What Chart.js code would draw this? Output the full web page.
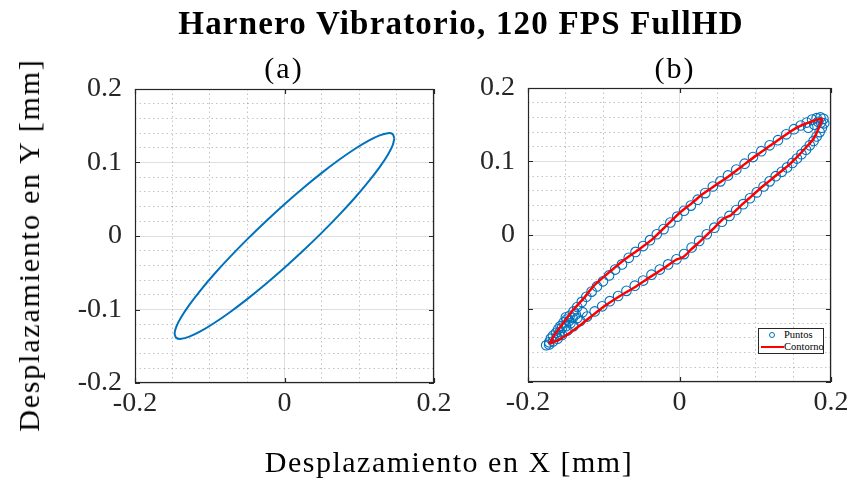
<!DOCTYPE html>
<html>
<head>
<meta charset="utf-8">
<script src="https://cdn.jsdelivr.net/npm/chart.js@4.4.1/dist/chart.umd.min.js"></script>
<style>
  html, body { margin: 0; padding: 0; background: #fff; }
  #fig { position: relative; width: 854px; height: 478px; overflow: hidden;
         font-family: 'Liberation Serif', 'Times New Roman', serif; color: #000; }
  canvas { position: absolute; top: 0; }
  .lbl { position: absolute; white-space: nowrap; line-height: 1; transform: translate(-50%, -50%); }
  #leyenda { position: absolute; left: 758px; top: 328px; width: 64px; height: 24px;
             border: 1px solid #262626; background: #fff; font-size: 10.5px; line-height: 12px; }
  #leyenda div { position: relative; height: 12px; }
  #leyenda .txt { position: absolute; left: 25px; top: 0; }
  #leyenda .circ { position: absolute; left: 10px; top: 3px; width: 6px; height: 6px;
                   border: 1px solid #0072BD; border-radius: 50%; box-sizing: border-box; }
  #leyenda .linea { position: absolute; left: 2px; top: 5px; width: 23px; height: 2px; background: #ff0000; }
</style>
</head>
<body>
<div id="fig">
  <canvas id="chartA" width="478" height="478" style="left:0"></canvas>
  <canvas id="chartB" width="376" height="478" style="left:478px"></canvas>

  <div class="lbl" style="left:461px;top:23px;font-size:33px;font-weight:bold;letter-spacing:1.2px">Harnero Vibratorio, 120 FPS FullHD</div>
  <div class="lbl" style="left:284px;top:68px;font-size:30px;letter-spacing:2px">(a)</div>
  <div class="lbl" style="left:675px;top:68px;font-size:30px;letter-spacing:2px">(b)</div>
  <div class="lbl" style="left:449px;top:462px;font-size:30px;letter-spacing:1.5px">Desplazamiento en X [mm]</div>
  <div class="lbl" style="left:29px;top:245px;font-size:30px;letter-spacing:1.8px;transform:translate(-50%,-50%) rotate(-90deg)">Desplazamiento en Y [mm]</div>

  <div id="leyenda">
    <div><span class="circ"></span><span class="txt">Puntos</span></div>
    <div><span class="linea"></span><span class="txt">Contorno</span></div>
  </div>
</div>

<script>
// ===== datos =====

// (a) elipse
const ellipseX = [0.147, 0.1448, 0.1381, 0.1273, 0.1126, 0.0945, 0.0735, 0.0503, 0.0255, 0,
  -0.0255, -0.0503, -0.0735, -0.0945, -0.1126, -0.1273, -0.1381, -0.1448, -0.147, -0.1448,
  -0.1381, -0.1273, -0.1126, -0.0945, -0.0735, -0.0503, -0.0255, 0, 0.0255, 0.0503,
  0.0735, 0.0945, 0.1126, 0.1273, 0.1381, 0.1448, 0.147];
const ellipseY = [0.133, 0.1386, 0.1399, 0.1369, 0.1298, 0.1187, 0.104, 0.0862, 0.0657, 0.0433,
  0.0195, -0.0049, -0.0291, -0.0524, -0.0742, -0.0937, -0.1103, -0.1236, -0.133, -0.1386,
  -0.1399, -0.1369, -0.1298, -0.1187, -0.104, -0.0862, -0.0657, -0.0433, -0.0195, 0.0049,
  0.0291, 0.0524, 0.0742, 0.0937, 0.1103, 0.1236, 0.133];

// (b) puntos medidos
const puntosX = [-0.176, -0.172, -0.170, -0.167, -0.163, -0.160, -0.157, -0.153, -0.149, -0.145,
  -0.140, -0.135, -0.129, -0.123, -0.116, -0.109, -0.101, -0.093, -0.085, -0.076,
  -0.067, -0.058, -0.048, -0.039, -0.030, -0.021, -0.012, -0.003, 0.006, 0.015,
  0.024, 0.034, 0.044, 0.054, 0.064, 0.075, 0.086, 0.097, 0.108, 0.119,
  0.130, 0.141, 0.151, 0.160, 0.168, 0.175, 0.181, 0.186, 0.190,
  0.191, 0.188, 0.185, 0.181, 0.177, 0.172, 0.167, 0.161, 0.155, 0.149,
  0.142, 0.135, 0.127, 0.119, 0.111, 0.102, 0.093, 0.084, 0.075, 0.066,
  0.056, 0.046, 0.036, 0.026, 0.016, 0.006, -0.004, -0.015, -0.026, -0.037,
  -0.048, -0.059, -0.070, -0.081, -0.092, -0.102, -0.112, -0.122, -0.131, -0.140,
  -0.148, -0.155, -0.161, -0.167, -0.172,
  -0.150, -0.146, -0.141, -0.137, -0.155, -0.150, -0.144, -0.158, -0.135, -0.128, -0.162,
  0.178, 0.183, 0.170, 0.187];
const puntosY = [-0.150, -0.146, -0.141, -0.137, -0.133, -0.128, -0.124, -0.119, -0.115, -0.110,
  -0.104, -0.098, -0.091, -0.084, -0.077, -0.070, -0.063, -0.055, -0.047, -0.040,
  -0.031, -0.023, -0.015, -0.007, 0.001, 0.008, 0.017, 0.025, 0.033, 0.040,
  0.048, 0.057, 0.066, 0.073, 0.081, 0.089, 0.097, 0.106, 0.114, 0.122,
  0.129, 0.137, 0.144, 0.149, 0.153, 0.157, 0.159, 0.160, 0.158,
  0.152, 0.146, 0.140, 0.134, 0.128, 0.122, 0.116, 0.110, 0.104, 0.098,
  0.092, 0.086, 0.080, 0.073, 0.066, 0.058, 0.050, 0.042, 0.034, 0.026,
  0.018, 0.010, 0.001, -0.008, -0.017, -0.026, -0.033, -0.040, -0.047, -0.054,
  -0.062, -0.069, -0.076, -0.083, -0.090, -0.097, -0.104, -0.111, -0.117, -0.124,
  -0.130, -0.136, -0.141, -0.145, -0.149,
  -0.112, -0.117, -0.113, -0.108, -0.126, -0.124, -0.120, -0.132, -0.113, -0.105, -0.138,
  0.150, 0.154, 0.146, 0.153];

// (b) contorno
const contornoX = [-0.172, -0.165, -0.155, -0.143, -0.128, -0.112, -0.092, -0.072, -0.054, -0.036,
  -0.018, 0.000, 0.016, 0.031, 0.048, 0.065, 0.083, 0.101, 0.119, 0.137,
  0.153, 0.168, 0.188, 0.184, 0.177, 0.166, 0.155, 0.143, 0.131, 0.118,
  0.105, 0.092, 0.079, 0.068, 0.058, 0.044, 0.030, 0.015, 0.005, -0.005,
  -0.022, -0.040, -0.059, -0.077, -0.095, -0.112, -0.129, -0.146, -0.160, -0.172];
const contornoY = [-0.148, -0.136, -0.122, -0.105, -0.088, -0.068, -0.050, -0.033, -0.020, -0.006,
  0.012, 0.030, 0.043, 0.056, 0.068, 0.080, 0.094, 0.108, 0.121, 0.134,
  0.145, 0.152, 0.158, 0.146, 0.131, 0.118, 0.106, 0.094, 0.084, 0.073,
  0.062, 0.050, 0.038, 0.027, 0.022, 0.008, -0.006, -0.020, -0.030, -0.034,
  -0.046, -0.058, -0.071, -0.082, -0.094, -0.107, -0.121, -0.134, -0.143, -0.148];

// marcas de los ejes
const xTicks = [-0.2, 0, 0.2];
const yTicks = [-0.2, -0.1, 0, 0.1, 0.2];
const yLabelsA = [-0.2, -0.1, 0, 0.1, 0.2];
const yLabelsB = [0, 0.1, 0.2];

// ===== graficos =====

const AZUL = '#0072BD';
const EJE = '#262626';
const FUENTE = "'Liberation Serif', 'Times New Roman', serif";

const toXY = (xs, ys) => xs.map((x, i) => ({ x, y: ys[i] }));
const esta = (lista, v) => lista.some((l) => Math.abs(l - v) < 1e-9);

// caja con marcas hacia adentro (estilo MATLAB)
const cajaPlugin = {
  id: 'caja',
  afterDraw(chart) {
    const { ctx, chartArea: a, scales } = chart;
    const t = 5;
    ctx.save();
    ctx.strokeStyle = EJE;
    ctx.lineWidth = 1.2;
    ctx.strokeRect(a.left + 0.5, a.top + 0.5, a.width - 1, a.height - 1);
    ctx.beginPath();
    xTicks.forEach((v) => {
      const p = Math.round(scales.x.getPixelForValue(v)) + 0.5;
      ctx.moveTo(p, a.bottom); ctx.lineTo(p, a.bottom - t);
      ctx.moveTo(p, a.top); ctx.lineTo(p, a.top + t);
    });
    yTicks.forEach((v) => {
      const p = Math.round(scales.y.getPixelForValue(v)) + 0.5;
      ctx.moveTo(a.left, p); ctx.lineTo(a.left + t, p);
      ctx.moveTo(a.right, p); ctx.lineTo(a.right - t, p);
    });
    ctx.stroke();
    ctx.restore();
  },
};

function ejes(yLabels, yWidth, xHeight) {
  const gridColor = (mayores) => (c) =>
    c.tick && esta(mayores, Math.round(c.tick.value * 100) / 100)
      ? 'rgba(38,38,38,0.15)' : 'rgba(38,38,38,0.28)';
  const gridDash = (mayores) => (c) =>
    c.tick && esta(mayores, Math.round(c.tick.value * 100) / 100) ? [] : [1.5, 3];
  const etiqueta = (lista) => (value) => {
    const v = Math.round(value * 100) / 100;
    return esta(lista, v) ? String(v === 0 ? 0 : v) : '';
  };
  return {
    x: {
      type: 'linear', min: -0.2, max: 0.2,
      ticks: { stepSize: 0.05, autoSkip: false, maxRotation: 0, padding: 4,
               color: EJE, font: { family: FUENTE, size: 28 }, callback: etiqueta(xTicks) },
      grid: { drawTicks: false, lineWidth: 1, color: gridColor(xTicks) },
      border: { display: false, dash: gridDash(xTicks) },
      afterFit: (s) => { s.height = xHeight; },
    },
    y: {
      type: 'linear', min: -0.2, max: 0.2,
      ticks: { stepSize: 0.02, autoSkip: false, padding: 13,
               color: EJE, font: { family: FUENTE, size: 28 }, callback: etiqueta(yLabels) },
      grid: { drawTicks: false, lineWidth: 1, color: gridColor(yTicks) },
      border: { display: false, dash: gridDash(yTicks) },
      afterFit: (s) => { s.width = yWidth; },
    },
  };
}

const comunes = {
  responsive: false,
  animation: false,
  events: [],
  plugins: { legend: { display: false }, tooltip: { enabled: false } },
};

new Chart(document.getElementById('chartA'), {
  type: 'scatter',
  data: {
    datasets: [{
      label: 'Elipse',
      data: toXY(ellipseX, ellipseY),
      showLine: true,
      borderColor: AZUL,
      borderWidth: 2,
      pointRadius: 0,
      tension: 0.2,
    }],
  },
  options: {
    ...comunes,
    layout: { padding: { left: 0, right: 44, top: 89, bottom: 0 } },
    scales: ejes(yLabelsA, 135, 95),
  },
  plugins: [cajaPlugin],
});

new Chart(document.getElementById('chartB'), {
  type: 'scatter',
  data: {
    datasets: [
      {
        label: 'Contorno',
        data: toXY(contornoX, contornoY),
        showLine: true,
        borderColor: '#ff0000',
        borderWidth: 2.5,
        pointRadius: 0,
        tension: 0.2,
        order: 0,
      },
      {
        label: 'Puntos',
        data: toXY(puntosX, puntosY),
        showLine: false,
        pointStyle: 'circle',
        pointRadius: 4.8,
        borderColor: AZUL,
        borderWidth: 1.1,
        backgroundColor: 'rgba(0,0,0,0)',
        order: 1,
      },
    ],
  },
  options: {
    ...comunes,
    layout: { padding: { left: 0, right: 23, top: 88, bottom: 0 } },
    scales: ejes(yLabelsB, 50, 96),
  },
  plugins: [cajaPlugin],
});
</script>
</body>
</html>
